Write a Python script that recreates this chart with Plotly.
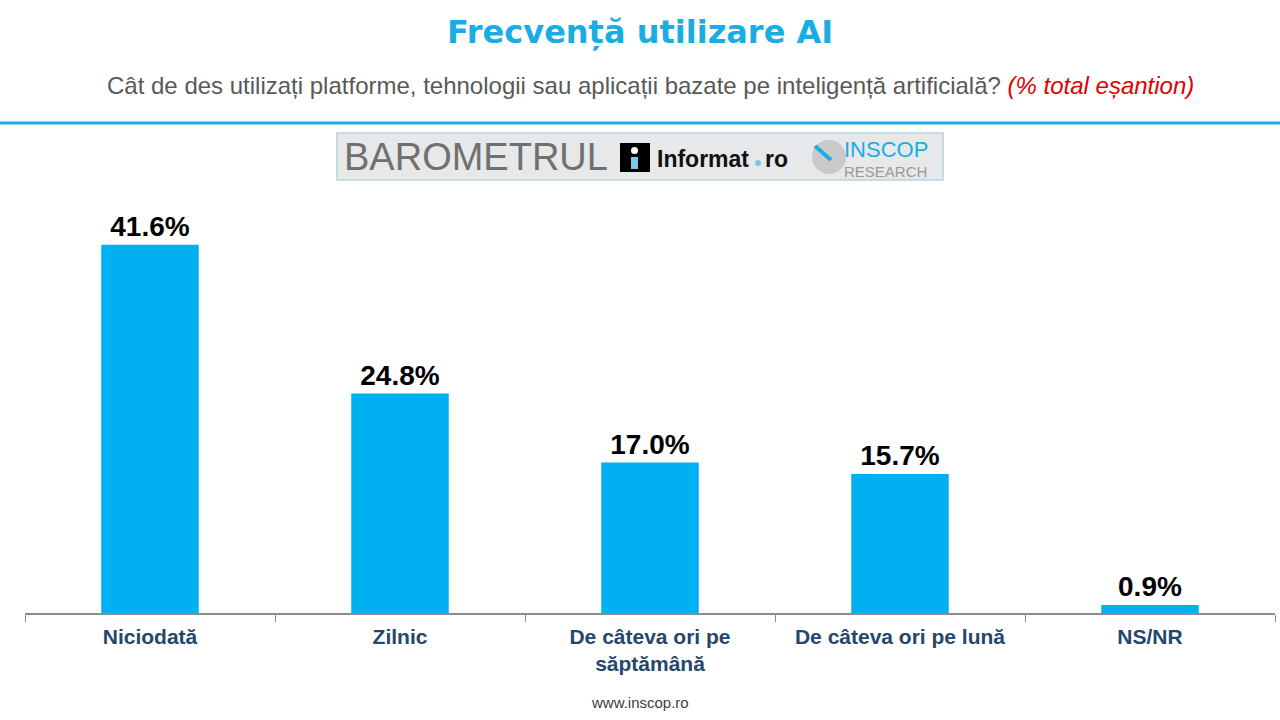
import plotly.graph_objects as go

categories = ["Niciodată", "Zilnic", "De câteva ori pe<br>săptămână", "De câteva ori pe lună", "NS/NR"]
values = [41.6, 24.8, 17.0, 15.7, 0.9]
value_labels = ["<b>41.6%</b>", "<b>24.8%</b>", "<b>17.0%</b>", "<b>15.7%</b>", "<b>0.9%</b>"]

W, H = 1280, 720
L, R, T, B = 25, 5, 205, 107
PW, PH = W - L - R, H - T - B


def px(x):
    return (x - L) / PW


def py(y):
    return (H - B - y) / PH


fig = go.Figure()
fig.add_trace(go.Bar(
    x=categories, y=values, text=value_labels, textposition="outside",
    textfont=dict(family="Arial, Liberation Sans", size=28, color="#000000"),
    marker=dict(color="#00B0F0", line=dict(width=0)), width=0.39,
    cliponaxis=False, hoverinfo="skip"))

shapes = [
    dict(type="line", xref="paper", yref="paper", x0=px(0), x1=px(W), y0=py(123), y1=py(123),
         line=dict(color="#1AADE3", width=3)),
    dict(type="rect", xref="paper", yref="paper", x0=px(337), x1=px(943), y0=py(180), y1=py(133),
         fillcolor="#E6E8E9", line=dict(color="#B9D3DA", width=1.5)),
    dict(type="rect", xref="paper", yref="paper", x0=px(620), x1=px(650), y0=py(172), y1=py(143),
         fillcolor="#000000", line=dict(width=0)),
    dict(type="rect", xref="paper", yref="paper", x0=px(631), x1=px(638), y0=py(169), y1=py(157),
         fillcolor="#7CC8E8", line=dict(width=0)),
    dict(type="circle", xref="paper", yref="paper", x0=px(631), x1=px(638), y0=py(154), y1=py(147),
         fillcolor="#FFFFFF", line=dict(width=0)),
    dict(type="circle", xref="paper", yref="paper", x0=px(812), x1=px(846), y0=py(174), y1=py(140),
         fillcolor="#C9C9C9", line=dict(width=0)),
    dict(type="line", xref="paper", yref="paper", x0=px(815), x1=px(831), y0=py(146), y1=py(160),
         line=dict(color="#1AADE3", width=4)),
    dict(type="circle", xref="paper", yref="paper", x0=px(755), x1=px(761), y0=py(166), y1=py(160),
         fillcolor="#7CC8E8", line=dict(width=0)),
]

annotations = [
    dict(text="<b>Frecvență utilizare AI</b>", x=px(640), xref="paper", y=py(32), yref="paper",
         showarrow=False, xanchor="center", yanchor="middle",
         font=dict(family="DejaVu Sans, Verdana", size=32, color="#1AADE3")),
    dict(text="Cât de des utilizați platforme, tehnologii sau aplicații bazate pe inteligență artificială? "
              "<i><span style='color:#E00000'>(% total eșantion)</span></i>",
         x=px(650), xref="paper", y=py(86), yref="paper", showarrow=False,
         xanchor="center", yanchor="middle",
         font=dict(family="Arial, Liberation Sans", size=24, color="#595959")),
    dict(text="BAROMETRUL", x=px(342), xref="paper", y=py(157), yref="paper", showarrow=False,
         xanchor="left", yanchor="middle",
         font=dict(family="Liberation Sans Narrow, Arial Narrow, Arial", size=38, color="#707070")),
    dict(text="<b>Informat</b>", x=px(655), xref="paper",
         y=py(159), yref="paper", showarrow=False, xanchor="left", yanchor="middle",
         font=dict(family="Arial, Liberation Sans", size=23, color="#111111")),
    dict(text="<b>ro</b>", x=px(763), xref="paper",
         y=py(159), yref="paper", showarrow=False, xanchor="left", yanchor="middle",
         font=dict(family="Arial, Liberation Sans", size=23, color="#111111")),
    dict(text="<span style='font-size:22px;color:#1AADE3'>INSCOP</span><br>RESEARCH",
         x=px(842), xref="paper", y=py(158), yref="paper", showarrow=False,
         xanchor="left", yanchor="middle", align="left",
         font=dict(family="Arial, Liberation Sans", size=15, color="#9A9A9A")),
    dict(text="www.inscop.ro", x=px(640), xref="paper", y=py(702), yref="paper", showarrow=False,
         xanchor="center", yanchor="middle",
         font=dict(family="Liberation Sans Narrow, Arial", size=15, color="#404040")),
]

fig.update_layout(
    width=W, height=H, margin=dict(l=L, r=R, t=T, b=B),
    paper_bgcolor="#FFFFFF", plot_bgcolor="#FFFFFF", showlegend=False,
    shapes=shapes, annotations=annotations,
    xaxis=dict(showline=True, linecolor="#8C8C8C", linewidth=1.5, ticks="outside",
               tickson="boundaries", ticklen=7, tickcolor="#8C8C8C", tickwidth=1,
               showgrid=False, fixedrange=True, ticklabelstandoff=4,
               tickfont=dict(family="Arial, Liberation Sans", size=21, color="#24476B"),
               tickprefix="<b>", ticksuffix="</b>"),
    yaxis=dict(range=[0, PH / 8.85], visible=False, showgrid=False, fixedrange=True),
    font=dict(family="Arial, Liberation Sans"),
)

fig.write_html("out.html", config={"displayModeBar": False},
               post_script="document.body.style.margin='0';")
